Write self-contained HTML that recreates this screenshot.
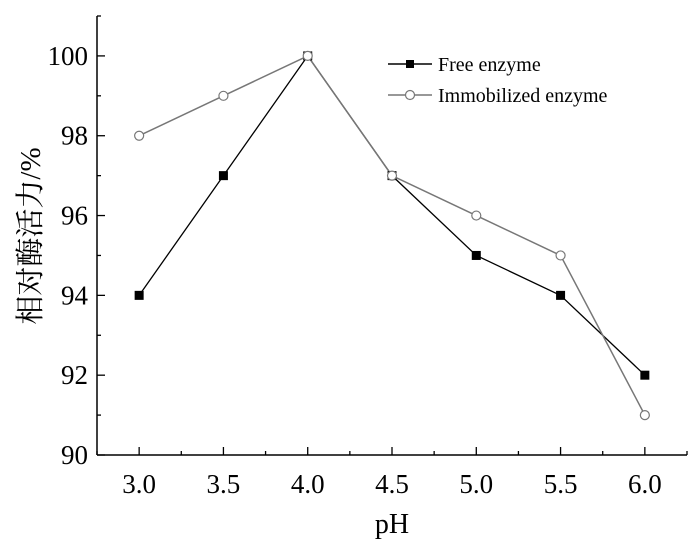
<!DOCTYPE html>
<html><head><meta charset="utf-8"><style>
body{margin:0;background:#fff;width:700px;height:541px;overflow:hidden}
text{font-family:"Liberation Serif","Noto Serif CJK SC",serif;fill:#000}
</style></head><body>
<svg width="700" height="541">
<g id="axes"></g>
<g id="series"></g>
<g>
<line x1="388" y1="64" x2="432" y2="64" stroke="#000" stroke-width="1.5"/>
<rect x="406" y="60" width="8" height="8" fill="#000"/>
<text x="438" y="71" font-size="20">Free enzyme</text>
<line x1="388" y1="95" x2="432" y2="95" stroke="#777" stroke-width="1.5"/>
<circle cx="410" cy="95" r="4.5" fill="#fff" stroke="#777" stroke-width="1.2"/>
<text x="438" y="102" font-size="20">Immobilized enzyme</text>
</g>
<text x="392" y="533" font-size="28" text-anchor="middle">pH</text>
<text transform="translate(40,236) rotate(-90)" font-size="29" text-anchor="middle">相对酶活力/%</text>
</svg>
<script>
const phs=[3.0,3.5,4.0,4.5,5.0,5.5,6.0];
const freeVals=[94,97,100,97,95,94,92];
const immVals=[98,99,100,97,96,95,91];
const xTicks=["3.0","3.5","4.0","4.5","5.0","5.5","6.0"];
const yTicks=[90,92,94,96,98,100];
const X=v=>97+(v-2.75)/3.5*590;
const Y=v=>455-(v-90)/11*439;
const NS="http://www.w3.org/2000/svg";
function mk(p,t,a){const e=document.createElementNS(NS,t);for(const k in a)e.setAttribute(k,a[k]);p.appendChild(e);return e;}
const ax=document.getElementById('axes'),se=document.getElementById('series');
let e=mk(ax,'line',{x1:97,y1:16,x2:97,y2:455,stroke:'#000','stroke-width':1.5});

e=mk(ax,'line',{x1:97,y1:455,x2:687,y2:455,stroke:'#000','stroke-width':1.5});

for(let v=90;v<=101;v++){const maj=v%2==0;mk(ax,'line',{x1:97,x2:97+(maj?8:4),y1:Y(v),y2:Y(v),stroke:'#000','stroke-width':1.3});}
yTicks.forEach(v=>{const t=mk(ax,'text',{x:88,y:Y(v)+9,'font-size':27,'text-anchor':'end'});t.textContent=v;

});
for(let v=2.75;v<=6.26;v+=0.25){const maj=Math.abs(v*2-Math.round(v*2))<0.01;mk(ax,'line',{x1:X(v),x2:X(v),y1:455,y2:455-(maj?8:4),stroke:'#000','stroke-width':1.3});}
phs.forEach((p,i)=>{const t=mk(ax,'text',{x:X(p),y:493,'font-size':27,'text-anchor':'middle'});t.textContent=xTicks[i];

});
let l=mk(se,'polyline',{points:phs.map((p,i)=>X(p)+','+Y(freeVals[i])).join(' '),fill:'none',stroke:'#000','stroke-width':1.3});

l=mk(se,'polyline',{points:phs.map((p,i)=>X(p)+','+Y(immVals[i])).join(' '),fill:'none',stroke:'#777','stroke-width':1.5});

phs.forEach((p,i)=>{const r=mk(se,'rect',{x:X(p)-4.5,y:Y(freeVals[i])-4.5,width:9,height:9,fill:'#000'});
});
phs.forEach((p,i)=>{const c=mk(se,'circle',{cx:X(p),cy:Y(immVals[i]),r:4.5,fill:'#fff',stroke:'#777','stroke-width':1.2});
});
</script>
</body></html>
